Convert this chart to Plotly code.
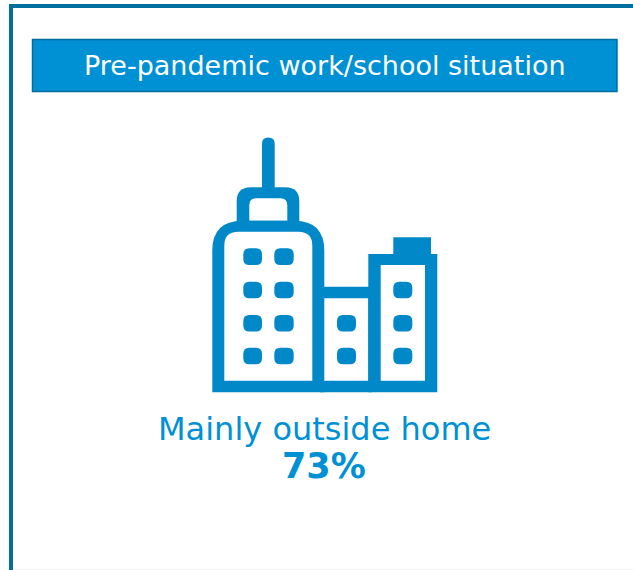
import plotly.graph_objects as go

title = "Pre-pandemic work/school situation"
category = "Mainly outside home"
share_percent = 73

BLUE = "#0088C8"
TEXT_BLUE = "#0091D5"
DARK = "#006E9E"
FONT = "Verdana, DejaVu Sans, sans-serif"

shapes = []

def rect(x0, y0, x1, y1, fill, line=None, lw=0):
    shapes.append(dict(type="rect", xref="x", yref="y", x0=x0, y0=y0, x1=x1, y1=y1,
                       fillcolor=fill, line=dict(color=line or fill, width=lw), layer="above"))

def rrect_path(x0, y0, x1, y1, r_top, r_bot=0):
    p = f"M{x0},{y1 - r_bot} L{x0},{y0 + r_top} Q{x0},{y0} {x0 + r_top},{y0} "
    p += f"L{x1 - r_top},{y0} Q{x1},{y0} {x1},{y0 + r_top} L{x1},{y1 - r_bot} "
    if r_bot:
        p += f"Q{x1},{y1} {x1 - r_bot},{y1} L{x0 + r_bot},{y1} Q{x0},{y1} {x0},{y1 - r_bot} "
    else:
        p += f"L{x0},{y1} "
    return p + "Z"

def path(d, fill):
    shapes.append(dict(type="path", xref="x", yref="y", path=d, fillcolor=fill,
                       line=dict(width=0), layer="above"))

# frame
rect(9, 4, 633, 8, DARK)
rect(9, 4, 13, 570, DARK)
rect(13, 569, 633, 570, "#F0F0F0")
# header
rect(32.5, 39.5, 617, 91.5, "#0091D5", DARK, 1.5)

# icon: antenna
path(rrect_path(262, 137.5, 274.7, 195, 6.3), BLUE)
# cap
path(rrect_path(236.7, 187.3, 299.3, 226, 14), BLUE)
path(rrect_path(249.3, 198.3, 287.3, 220.7, 7), "white")
# main tower
path(rrect_path(212.3, 220.7, 324.3, 392.3, 30), BLUE)
path(rrect_path(224.3, 231.7, 312.3, 380.7, 14), "white")
# middle block
rect(320, 286.7, 372, 392.3, BLUE)
rect(324.3, 298.3, 368.3, 380.7, "white")
# right block
rect(368.3, 254, 437.3, 392.3, BLUE)
rect(393.3, 237.3, 431, 256, BLUE)
rect(380.7, 265, 425, 380.7, "white")

# windows
rows = [(248.3, 265), (281.7, 298.3), (315, 331.5), (347.7, 364.3)]
for y0, y1 in rows:
    for x0, x1 in [(243.3, 262), (274.3, 293.7)]:
        path(rrect_path(x0, y0, x1, y1, 6, 6), BLUE)
for y0, y1 in rows[2:]:
    path(rrect_path(337, y0, 356, y1, 6, 6), BLUE)
for y0, y1 in rows[1:]:
    path(rrect_path(393.3, y0, 412.3, y1, 6, 6), BLUE)

annotations = [
    dict(x=324.5, y=65, text=title, font=dict(size=27, color="white", family=FONT)),
    dict(x=324.5, y=429, text=category, font=dict(size=32, color=TEXT_BLUE, family=FONT)),
    dict(x=324, y=466, text=f"<b>{share_percent}%</b>", font=dict(size=35, color=TEXT_BLUE, family=FONT)),
]
for a in annotations:
    a.update(xref="x", yref="y", showarrow=False, xanchor="center", yanchor="middle")

fig = go.Figure()
fig.update_layout(
    width=633, height=570, autosize=False,
    margin=dict(l=0, r=0, t=0, b=0),
    paper_bgcolor="white", plot_bgcolor="white",
    showlegend=False,
    xaxis=dict(range=[0, 633], visible=False, fixedrange=True),
    yaxis=dict(range=[570, 0], visible=False, fixedrange=True),
    shapes=shapes, annotations=annotations,
)
fig.write_html("out.html", config=dict(displayModeBar=False),
               post_script="document.body.style.margin='0';document.documentElement.style.overflow='hidden';")
